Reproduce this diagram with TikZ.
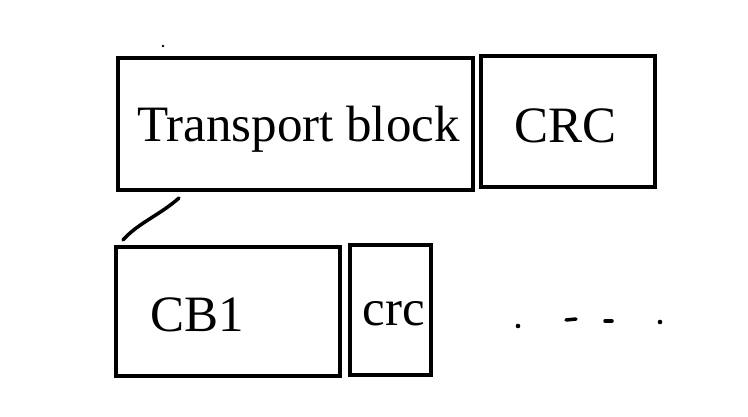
\documentclass[tikz,border=0pt]{standalone}
\usepackage{fontspec}
\setmainfont{Liberation Serif}
\usetikzlibrary{positioning}
\begin{document}
\begin{tikzpicture}[x=1pt,y=-1pt]
  \tikzset{blk/.style={draw, line width=4.5pt, inner sep=0, outer sep=0},
    lbl/.style={inner sep=0, outer sep=0, anchor=base, font=\fontsize{51}{60}\selectfont}}
  \useasboundingbox (0,0) rectangle (748,417);

  \node [blk, minimum width=355pt, minimum height=132pt] (tb) at (295.5,124) {};
  \node [lbl] (tbtext) at (298.5,142) {Transport block};
  \node [blk, minimum width=174pt, minimum height=131pt] (crc) at (568,121.5) {};
  \node [lbl] (crctext) at (565.5,143) {CRC};

  \node [blk, minimum width=224pt, minimum height=129pt] (cb) at (228,311.5) {};
  \node [lbl] (cbtext) at (197.5,331) {CB1};
  \node [blk, minimum width=81pt, minimum height=130pt] (cbcrc) at (390.5,310) {};
  \node [lbl] (cbcrctext) at (393.5,325) {crc};

  \coordinate (cbcut) at (123,240);
  \coordinate (tbcut) at (179,198);
  \draw [line width=3.5pt, line cap=round] (cbcut) .. controls (138,223) and (160,215) .. (tbcut);

  \fill [black] (163,46) circle (1.3pt);
  \fill [black] (518,326) circle (2.3pt);
  \draw [line width=3.5pt, line cap=round] (566,320) -- (576,319);
  \draw [line width=3.5pt, line cap=round] (605,321) -- (612,321);
  \fill [black] (660,322) circle (2.3pt);
\end{tikzpicture}
\end{document}
